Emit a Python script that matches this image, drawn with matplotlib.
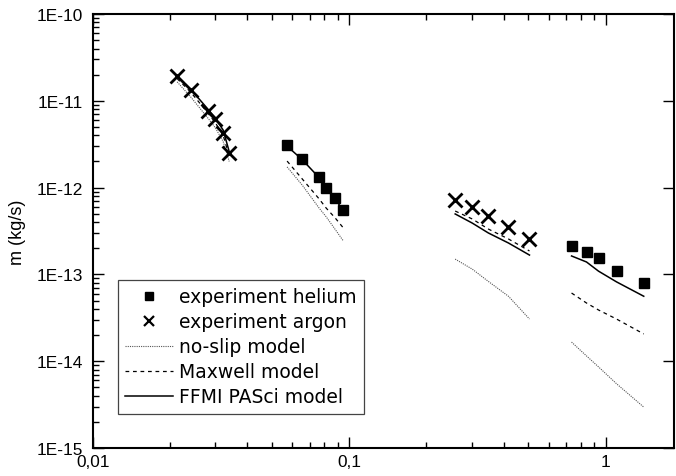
import numpy as np
import matplotlib
matplotlib.use("Agg")
import matplotlib.pyplot as plt
from matplotlib.ticker import LogLocator, FuncFormatter, NullFormatter
from matplotlib.lines import Line2D

plt.rcParams['font.family'] = ['Liberation Sans', 'DejaVu Sans']

# argon, first channel
ar1_x = [0.0213, 0.0241, 0.0281, 0.0300, 0.0322, 0.0340]
ar1_exp = [1.93e-11, 1.33e-11, 7.6e-12, 6.2e-12, 4.3e-12, 2.5e-12]
ar1_ffmi = [1.9e-11, 1.35e-11, 8.0e-12, 6.3e-12, 4.6e-12, 2.6e-12]
ar1_maxwell = [1.8e-11, 1.25e-11, 7.2e-12, 5.6e-12, 4.0e-12, 2.3e-12]
ar1_noslip = [1.65e-11, 1.1e-11, 6.3e-12, 4.9e-12, 3.4e-12, 2.0e-12]

# helium, first channel
he1_x = [0.0572, 0.0655, 0.0763, 0.0813, 0.0881, 0.0948]
he1_exp = [3.1e-12, 2.13e-12, 1.32e-12, 9.9e-13, 7.6e-13, 5.5e-13]
he1_ffmi = [3.0e-12, 2.1e-12, 1.3e-12, 9.7e-13, 7.4e-13, 5.4e-13]
he1_maxwell = [2.02e-12, 1.26e-12, 7.4e-13, 5.8e-13, 4.47e-13, 3.43e-13]
he1_noslip = [1.73e-12, 1.07e-12, 5.8e-13, 4.6e-13, 3.3e-13, 2.43e-13]

# argon, second channel
ar2_x = [0.259, 0.302, 0.349, 0.418, 0.505]
ar2_exp = [7.2e-13, 5.97e-13, 4.7e-13, 3.5e-13, 2.56e-13]
ar2_ffmi = [4.97e-13, 3.9e-13, 3.0e-13, 2.3e-13, 1.67e-13]
ar2_maxwell = [5.37e-13, 4.35e-13, 3.33e-13, 2.56e-13, 1.86e-13]
ar2_noslip = [1.50e-13, 1.15e-13, 8.3e-14, 5.6e-14, 3.06e-14]

# helium, second channel
he2_x = [0.737, 0.843, 0.939, 1.104, 1.41]
he2_exp = [2.12e-13, 1.81e-13, 1.55e-13, 1.09e-13, 7.96e-14]
he2_ffmi = [1.63e-13, 1.39e-13, 1.09e-13, 8.2e-14, 5.6e-14]
he2_maxwell = [6.1e-14, 4.68e-14, 3.89e-14, 3.06e-14, 2.06e-14]
he2_noslip = [1.66e-14, 1.15e-14, 8.6e-15, 5.5e-15, 2.96e-15]

fig = plt.figure(figsize=(6.76, 4.77), dpi=100)
ax = fig.add_axes([0.1376, 0.0587, 0.8594, 0.9099])

dot_kw = dict(color='#555555', lw=0.8, linestyle=(0, (1, 1)))
dash_kw = dict(color='black', lw=0.9, linestyle=(0, (3, 3)))
solid_kw = dict(color='black', lw=1.1, linestyle='-')

for x, ns, mx, ff in [(ar1_x, ar1_noslip, ar1_maxwell, ar1_ffmi),
                      (he1_x, he1_noslip, he1_maxwell, he1_ffmi),
                      (ar2_x, ar2_noslip, ar2_maxwell, ar2_ffmi),
                      (he2_x, he2_noslip, he2_maxwell, he2_ffmi)]:
    ax.plot(x, ns, **dot_kw)
    ax.plot(x, mx, **dash_kw)
    ax.plot(x, ff, **solid_kw)

sq_kw = dict(linestyle='none', marker='s', ms=7.5, color='black')
x_kw = dict(linestyle='none', marker='x', ms=10, mew=2.0, color='black')
ax.plot(he1_x, he1_exp, **sq_kw)
ax.plot(he2_x, he2_exp, **sq_kw)
ax.plot(ar1_x, ar1_exp, **x_kw)
ax.plot(ar2_x, ar2_exp, **x_kw)

ax.set_xscale('log')
ax.set_yscale('log')
ax.set_xlim(0.01, 1.85)
ax.set_ylim(1e-15, 1e-10)

ax.xaxis.set_major_locator(LogLocator(base=10, numticks=10))
ax.xaxis.set_minor_locator(LogLocator(base=10, subs=np.arange(2, 10), numticks=20))
ax.yaxis.set_major_locator(LogLocator(base=10, numticks=10))
ax.yaxis.set_minor_locator(LogLocator(base=10, subs=np.arange(2, 10), numticks=20))
ax.xaxis.set_major_formatter(FuncFormatter(lambda v, p: ('%g' % v).replace('.', ',')))
ax.yaxis.set_major_formatter(FuncFormatter(lambda v, p: '1E%d' % int(round(np.log10(v)))))
ax.xaxis.set_minor_formatter(NullFormatter())
ax.yaxis.set_minor_formatter(NullFormatter())

ax.tick_params(which='both', direction='in', top=True, right=True, labelsize=12.4, width=1.0)
ax.tick_params(which='major', length=8)
ax.tick_params(axis='x', which='major', pad=4)
ax.tick_params(axis='y', which='major', pad=7)
ax.tick_params(which='minor', length=4)
ax.tick_params(axis='y', which='minor', right=False)
for s in ax.spines.values():
    s.set_linewidth(1.5)

ax.set_ylabel('m (kg/s)', fontsize=13, labelpad=8)

handles = [Line2D([], [], **dict(sq_kw, ms=6)),
           Line2D([], [], **dict(x_kw, ms=7, mew=1.6)),
           Line2D([], [], **dot_kw),
           Line2D([], [], **dash_kw),
           Line2D([], [], **solid_kw)]
labels = ['experiment helium', 'experiment argon', 'no-slip model',
          'Maxwell model', 'FFMI PASci model']
leg = ax.legend(handles, labels, loc='lower left', bbox_to_anchor=(0.043, 0.079),
                prop={'family': 'DejaVu Sans', 'size': 13.5},
                frameon=True, fancybox=False, framealpha=1,
                edgecolor='#444444', handlelength=2.55, handletextpad=0.28,
                labelspacing=0.32, borderpad=0.4, borderaxespad=0)
leg.get_frame().set_linewidth(0.9)

fig.savefig('out.png', dpi=100)
